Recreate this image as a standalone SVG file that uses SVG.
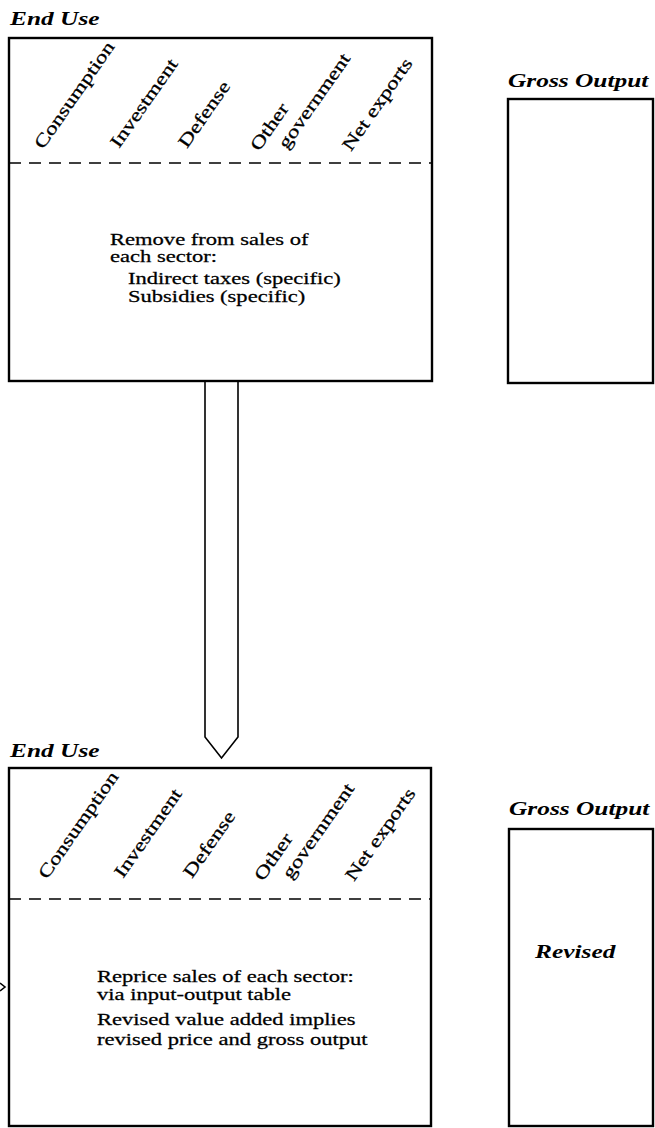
<svg xmlns="http://www.w3.org/2000/svg" width="655" height="1128" viewBox="0 0 655 1128">
<style>
.box{fill:none;stroke:#000;stroke-width:2.4}
.dash{fill:none;stroke:#000;stroke-width:1.6;stroke-dasharray:12 8}
.conn{fill:none;stroke:#000;stroke-width:1.6;stroke-linejoin:miter}
.title{font-family:"Liberation Serif","Times New Roman",serif;font-weight:bold;font-style:italic;font-size:18px;fill:#000}
.lbl{font-family:"Liberation Serif","Times New Roman",serif;font-size:18px;fill:#000;stroke:#000;stroke-width:0.3}
.body{font-family:"Liberation Serif","Times New Roman",serif;font-size:16px;fill:#000;stroke:#000;stroke-width:0.25}
</style>
<rect width="655" height="1128" fill="#fff"/>
<g id="enduse-top">
<text class="title" transform="translate(10,25) scale(1.41,1)">End Use</text>
<rect class="box" x="9" y="38" width="423" height="343"/>
<line class="dash" x1="9" y1="163" x2="432" y2="163"/>
<text class="lbl" transform="translate(43,150) rotate(-55) scale(1.3,1)">Consumption</text>
<text class="lbl" transform="translate(119,149) rotate(-55) scale(1.3,1)">Investment</text>
<text class="lbl" transform="translate(187,149) rotate(-55) scale(1.3,1)">Defense</text>
<text class="lbl" transform="translate(259,152) rotate(-55) scale(1.3,1)">Other</text>
<text class="lbl" transform="translate(287,150) rotate(-55) scale(1.3,1)">government</text>
<text class="lbl" transform="translate(351,152) rotate(-55) scale(1.3,1)">Net exports</text>
<text class="body" transform="translate(110,245) scale(1.41,1)">Remove from sales of</text>
<text class="body" transform="translate(110,262) scale(1.41,1)">each sector:</text>
<text class="body" transform="translate(128,284) scale(1.41,1)">Indirect taxes (specific)</text>
<text class="body" transform="translate(128,302) scale(1.41,1)">Subsidies (specific)</text>
</g>
<g id="gross-top">
<text class="title" transform="translate(508,87) scale(1.41,1)">Gross Output</text>
<rect class="box" x="508" y="99" width="145" height="284"/>
</g>
<g id="enduse-bottom">
<text class="title" transform="translate(10,757) scale(1.41,1)">End Use</text>
<rect class="box" x="9" y="768" width="422" height="358"/>
<line class="dash" x1="9" y1="899" x2="431" y2="899"/>
<text class="lbl" transform="translate(47,880) rotate(-55) scale(1.3,1)">Consumption</text>
<text class="lbl" transform="translate(123,879) rotate(-55) scale(1.3,1)">Investment</text>
<text class="lbl" transform="translate(192,879) rotate(-55) scale(1.3,1)">Defense</text>
<text class="lbl" transform="translate(263,882) rotate(-55) scale(1.3,1)">Other</text>
<text class="lbl" transform="translate(291,880) rotate(-55) scale(1.3,1)">government</text>
<text class="lbl" transform="translate(354,882) rotate(-55) scale(1.3,1)">Net exports</text>
<text class="body" transform="translate(97,982) scale(1.41,1)">Reprice sales of each sector:</text>
<text class="body" transform="translate(97,1000) scale(1.41,1)">via input-output table</text>
<text class="body" transform="translate(97,1025) scale(1.41,1)">Revised value added implies</text>
<text class="body" transform="translate(97,1045) scale(1.41,1)">revised price and gross output</text>
</g>
<g id="gross-bottom">
<text class="title" transform="translate(509,815) scale(1.41,1)">Gross Output</text>
<rect class="box" x="509" y="829" width="144" height="297"/>
<text class="title" transform="translate(535,958) scale(1.41,1)">Revised</text>
</g>
<g id="connectors">
<path class="conn" d="M205,381 V737 L221.5,758 L238,737 V381"/>
<path class="conn" d="M0,983 L5,987 L0,991"/>
</g>
</svg>
